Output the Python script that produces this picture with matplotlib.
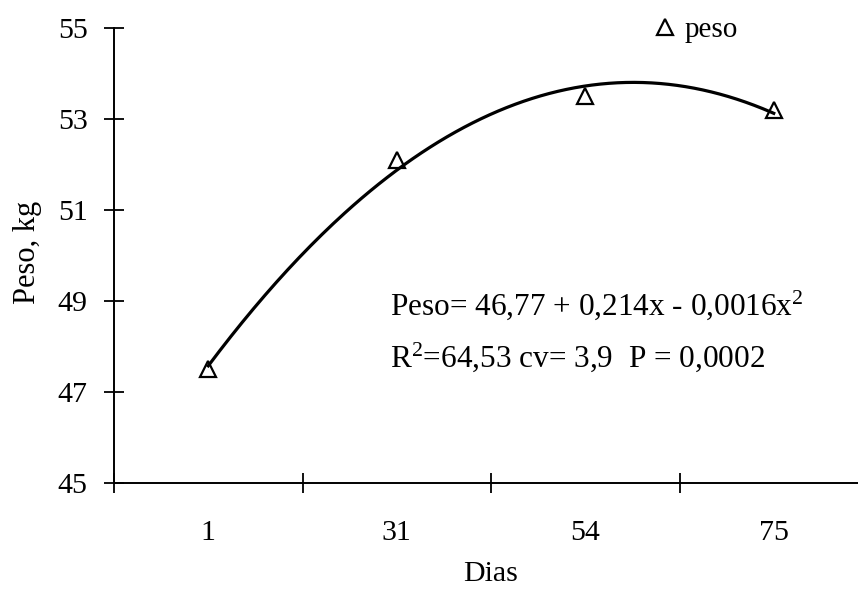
import numpy as np
import matplotlib
matplotlib.use("Agg")
import matplotlib.pyplot as plt

plt.rcParams['font.family'] = ['Liberation Serif', 'DejaVu Serif']
plt.rcParams['mathtext.fontset'] = 'custom'
plt.rcParams['mathtext.rm'] = 'Liberation Serif'
plt.rcParams['mathtext.it'] = 'Liberation Serif:italic'

# pesos medios por dia de coleta
dias = ['1', '31', '54', '75']
peso = [47.5, 52.1, 53.5, 53.2]
eixo_y = [45, 47, 49, 51, 53, 55]

pos = np.arange(1, len(dias) + 1)

fig = plt.figure(figsize=(8.58, 5.89), dpi=100)
W, H = 858, 589
ax = fig.add_axes([114 / W, (H - 483) / H, 754 / W, 455 / H])

# tendencia polinomial de 2a ordem (como no Excel)
coef = np.polyfit(pos, peso, 2)
xs = np.linspace(pos[0], pos[-1], 200)
ax.plot(xs, np.polyval(coef, xs), color='black', lw=2.3, zorder=3)
ax.plot(pos, peso, '^', ms=11, mfc='white', mec='black', mew=1.6,
        label='peso', zorder=2, clip_on=False)

ax.set_xlim(0.5, len(dias) + 0.5)
ax.set_ylim(45, 55)
ax.set_yticks(eixo_y)
ax.set_xticks(np.arange(0.5, len(dias) + 1, 1))
ax.set_xticklabels([])
ax.set_xticks(pos, minor=True)
ax.set_xticklabels(dias, minor=True)

for s in ['top', 'right']:
    ax.spines[s].set_visible(False)
for s in ['left', 'bottom']:
    ax.spines[s].set_linewidth(1.4)

ax.tick_params(axis='both', which='major', direction='inout', length=14,
               width=1.3, labelsize=21.5)
ax.tick_params(axis='y', pad=12)
ax.tick_params(axis='x', which='minor', length=0, pad=27, labelsize=21.5)

fig.text(27 / W, 1 - 252 / H, 'Peso, kg', rotation=90, ha='center',
         va='center', fontsize=22)
fig.text(491 / W, 1 - 581 / H, 'Dias', ha='center', va='baseline',
         fontsize=21.5)

fig.text(390 / W, 1 - 315 / H, r'Peso= 46,77 + 0,214x - 0,0016x$^2$',
         fontsize=22.5, va='baseline')
fig.text(390 / W, 1 - 367 / H, r'R$^2$=64,53 cv= 3,9  P = 0,0002',
         fontsize=22.5, va='baseline')

ax.legend(loc='center left', bbox_to_anchor=(650 / W, 1 - 30 / H),
          bbox_transform=fig.transFigure, frameon=False, borderpad=0,
          handlelength=1, handletextpad=0.2, numpoints=1, fontsize=21,
          borderaxespad=0)

fig.savefig('out.png', dpi=100)
